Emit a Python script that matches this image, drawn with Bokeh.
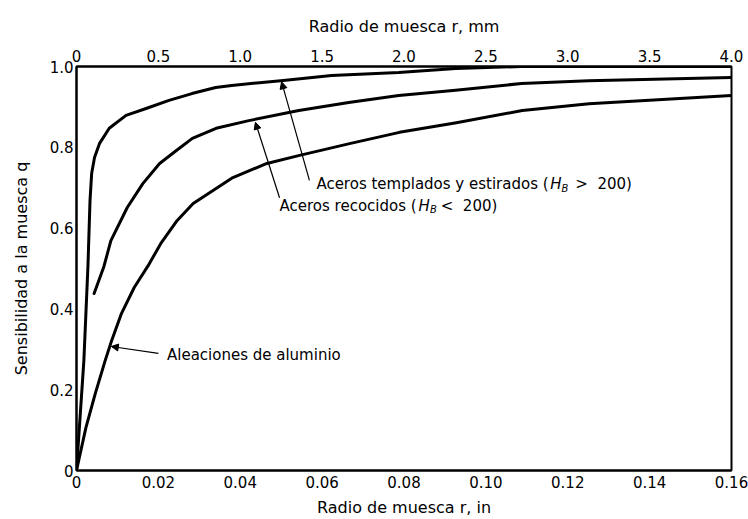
from bokeh.plotting import figure
from bokeh.models import Range1d, LinearAxis, FixedTicker, Label, Arrow, NormalHead
from bokeh.embed import file_html
from bokeh.resources import INLINE

# ---------------- data ----------------
# Notch radius r in inches, notch sensitivity q
temp_x = [0, 0.0018, 0.0028, 0.0033, 0.0037, 0.0044, 0.0056, 0.0080, 0.0121, 0.0170,
          0.0226, 0.0282, 0.0340, 0.0379, 0.0499, 0.0623, 0.0787, 0.0926, 0.1087, 0.13, 0.16]
temp_q = [0, 0.272, 0.507, 0.668, 0.735, 0.775, 0.809, 0.847, 0.879, 0.896,
          0.916, 0.933, 0.948, 0.953, 0.965, 0.978, 0.985, 0.995, 1.0, 1.0, 1.0]

rec_x = [0.0043, 0.0067, 0.0084, 0.0124, 0.0162, 0.0203, 0.0244, 0.0283, 0.0341, 0.0421,
         0.0543, 0.0665, 0.0787, 0.0926, 0.1087, 0.1251, 0.16]
rec_q = [0.438, 0.505, 0.569, 0.651, 0.710, 0.760, 0.792, 0.822, 0.847, 0.866,
         0.891, 0.911, 0.928, 0.941, 0.958, 0.965, 0.973]

alu_x = [0, 0.0023, 0.0046, 0.0070, 0.0086, 0.0110, 0.0141, 0.0175, 0.0206, 0.0246, 0.0285,
         0.0382, 0.0465, 0.0545, 0.0667, 0.0789, 0.0928, 0.1089, 0.1252, 0.16]
alu_q = [0, 0.106, 0.191, 0.272, 0.322, 0.389, 0.453, 0.507, 0.562, 0.619, 0.661,
         0.725, 0.760, 0.780, 0.809, 0.837, 0.861, 0.891, 0.908, 0.928]

x_in_ticks = [0, 0.02, 0.04, 0.06, 0.08, 0.10, 0.12, 0.14, 0.16]
x_in_labels = ["0", "0.02", "0.04", "0.06", "0.08", "0.10", "0.12", "0.14", "0.16"]
x_mm_ticks = [0, 0.5, 1.0, 1.5, 2.0, 2.5, 3.0, 3.5, 4.0]
x_mm_labels = ["0", "0.5", "1.0", "1.5", "2.0", "2.5", "3.0", "3.5", "4.0"]
y_ticks = [0, 0.2, 0.4, 0.6, 0.8, 1.0]
y_labels = ["0", "0.2", "0.4", "0.6", "0.8", "1.0"]

FONT = "DejaVu Sans"

p = figure(width=748, height=519, output_backend="svg", toolbar_location=None,
           x_range=Range1d(0, 0.16), y_range=Range1d(0, 1.0),
           min_border_left=76, min_border_right=17, min_border_top=66, min_border_bottom=49)
p.extra_x_ranges = {"mm": Range1d(0, 4.0)}
top_axis = LinearAxis(x_range_name="mm")
p.add_layout(top_axis, "above")

p.xgrid.visible = False
p.ygrid.visible = False
p.outline_line_color = "black"
p.outline_line_width = 2
p.background_fill_color = "white"
p.border_fill_color = "white"

bottom_axis = p.below[0]
for ax in [p.yaxis[0], bottom_axis, top_axis]:
    ax.axis_line_width = 2
    ax.axis_line_color = "black"
    ax.major_tick_in = 0
    ax.major_tick_out = 0
    ax.minor_tick_in = 0
    ax.minor_tick_out = 0
    ax.major_label_text_font = FONT
    ax.major_label_text_font_size = "15px"
    ax.major_label_text_color = "black"
    ax.axis_label_text_font = FONT
    ax.axis_label_text_font_size = "16px"
    ax.axis_label_text_font_style = "normal"
    ax.axis_label_text_color = "black"

bottom_axis.ticker = FixedTicker(ticks=x_in_ticks)
bottom_axis.major_label_overrides = dict(zip(x_in_ticks, x_in_labels))
bottom_axis.axis_label = "Radio de muesca r, in"
bottom_axis.major_label_standoff = 5
bottom_axis.axis_label_standoff = 7

top_axis.ticker = FixedTicker(ticks=x_mm_ticks)
top_axis.major_label_overrides = dict(zip(x_mm_ticks, x_mm_labels))
top_axis.axis_label = "Radio de muesca r, mm"
top_axis.major_label_standoff = 5
top_axis.axis_label_standoff = 11

p.yaxis[0].ticker = FixedTicker(ticks=y_ticks)
p.yaxis[0].major_label_overrides = dict(zip(y_ticks, y_labels))
p.yaxis[0].axis_label = "Sensibilidad a la muesca q"
p.yaxis[0].major_label_standoff = 3
p.yaxis[0].axis_label_standoff = 16

for xs, qs in [(temp_x, temp_q), (rec_x, rec_q), (alu_x, alu_q)]:
    p.line(xs, qs, line_width=3, line_color="black", line_join="round", line_cap="round")

# ---------------- annotations ----------------
W = {" ": .318, "(": .390, ")": .390, ">": .838, "<": .838, "0": .636, "2": .636,
     "A": .684, "H": .752, "B": .686, "a": .613, "c": .550, "d": .635, "e": .615,
     "i": .278, "l": .278, "m": .974, "n": .634, "o": .612, "p": .635, "r": .411,
     "s": .521, "t": .392, "u": .634, "y": .592}


def width(s, size):
    return sum(W.get(ch, .6) for ch in s) * size


def hb_label(x, y, prefix, tail, gap, size=15):
    kw = dict(text_font=FONT, text_color="black", text_baseline="middle", text_align="left")
    p.add_layout(Label(x=x, y=y, text=prefix, text_font_size=f"{size}px", **kw))
    w = width(prefix, size)
    p.add_layout(Label(x=x, y=y, x_offset=w + 1, text="H", text_font_size=f"{size}px",
                       text_font_style="italic", **kw))
    w += W["H"] * size + 1
    p.add_layout(Label(x=x, y=y, x_offset=w, y_offset=-4, text="B", text_font_size="10px",
                       text_font_style="italic", **kw))
    w += W["B"] * 10 + gap
    p.add_layout(Label(x=x, y=y, x_offset=w, text=tail, text_font_size=f"{size}px", **kw))


hb_label(0.0586, 0.708, "Aceros templados y estirados (", "> \u00a0200)", 7)
hb_label(0.0496, 0.655, "Aceros recocidos (", "< \u00a0200)", 4)
p.add_layout(Label(x=0.0221, y=0.287, text="Aleaciones de aluminio", text_font=FONT,
                   text_font_size="15px", text_color="black", text_baseline="middle",
                   text_align="left"))

head = lambda: NormalHead(size=7, fill_color="black", line_color="black", line_width=1)
p.add_layout(Arrow(x_start=0.0569, y_start=0.718, x_end=0.0501, y_end=0.962,
                   line_width=1.2, line_color="black", end=head()))
p.add_layout(Arrow(x_start=0.0496, y_start=0.675, x_end=0.0437, y_end=0.862,
                   line_width=1.2, line_color="black", end=head()))
p.add_layout(Arrow(x_start=0.0200, y_start=0.290, x_end=0.0085, y_end=0.307,
                   line_width=1.2, line_color="black", end=head()))

open("out.html", "w").write(file_html(p, INLINE))
